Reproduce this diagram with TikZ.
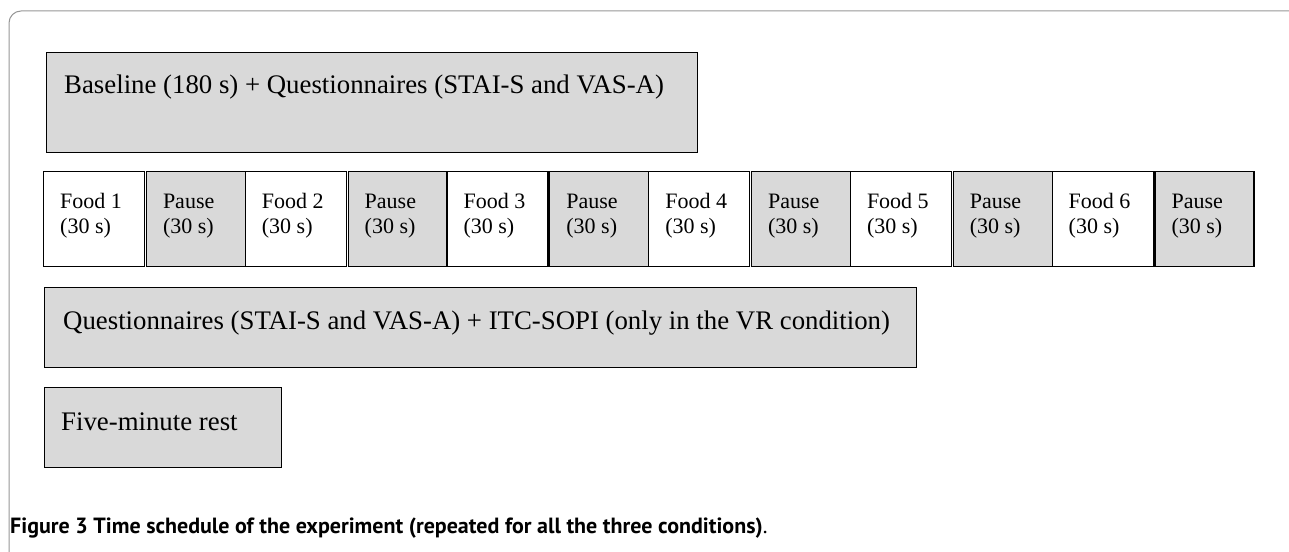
\documentclass[tikz,border=0pt]{standalone}
\usepackage{fontspec}
\setmainfont{Liberation Serif}
\newfontfamily\capfont{PT Sans}
\definecolor{boxgrey}{RGB}{217,217,217}
\definecolor{framegrey}{RGB}{150,150,150}

\begin{document}
\begin{tikzpicture}[x=1pt,y=-1pt,
    greybox/.style={draw,fill=boxgrey,line width=1pt,anchor=north west,inner sep=0pt},
    cell/.style={draw,line width=1.2pt,anchor=north west,inner sep=0pt,minimum height=95pt},
    bigtext/.style={anchor=base west,inner sep=0pt,font=\fontsize{26.8}{31}\selectfont},
    celltext/.style={anchor=base west,inner sep=0pt,align=left,font=\fontsize{22}{25}\selectfont}]
  \useasboundingbox (0,0) rectangle (1289,551);
  \draw[framegrey,line width=1pt,rounded corners=12pt] (9,11) rectangle (1302,566);

  % baseline block
  \node[greybox,minimum width=651pt,minimum height=100pt] (base) at (46,52) {};
  \node[bigtext] (basetxt) at ([xshift=18pt,yshift=-41pt]base.north west)
    {Baseline (180 s) + Questionnaires (STAI-S and VAS-A)};

  % six foods, each followed by a pause
  \foreach \k in {1,...,6}{
    \pgfmathsetmacro\fx{43+201.7*(\k-1)}
    \node[cell,fill=white,minimum width=101pt] (food\k) at (\fx,171) {};
    \node[celltext] at ([xshift=17pt,yshift=-62pt]food\k.north west) {Food \k\\(30 s)};
    \node[cell,fill=boxgrey,minimum width=99pt] (pause\k) at (\fx+102.8,171) {};
    \node[celltext] at ([xshift=17pt,yshift=-62pt]pause\k.north west) {Pause\\(30 s)};
  }

  % after the foods
  \node[greybox,minimum width=872pt,minimum height=80pt] (quest) at (44,287) {};
  \node[bigtext] (questtxt) at ([xshift=19pt,yshift=-42pt]quest.north west)
    {Questionnaires (STAI-S and VAS-A) + ITC-SOPI (only in the VR condition)};
  \node[greybox,minimum width=237pt,minimum height=80pt] (rest) at (44,387) {};
  \node[bigtext] (resttxt) at ([xshift=17pt,yshift=-43pt]rest.north west) {Five-minute rest};

  \node[anchor=base west,inner sep=0pt,font=\capfont\bfseries\fontsize{22}{26}\selectfont] (caption) at (10,533)
    {Figure 3 Time schedule of the experiment (repeated for all the three conditions)\mdseries.};
\end{tikzpicture}
\end{document}
